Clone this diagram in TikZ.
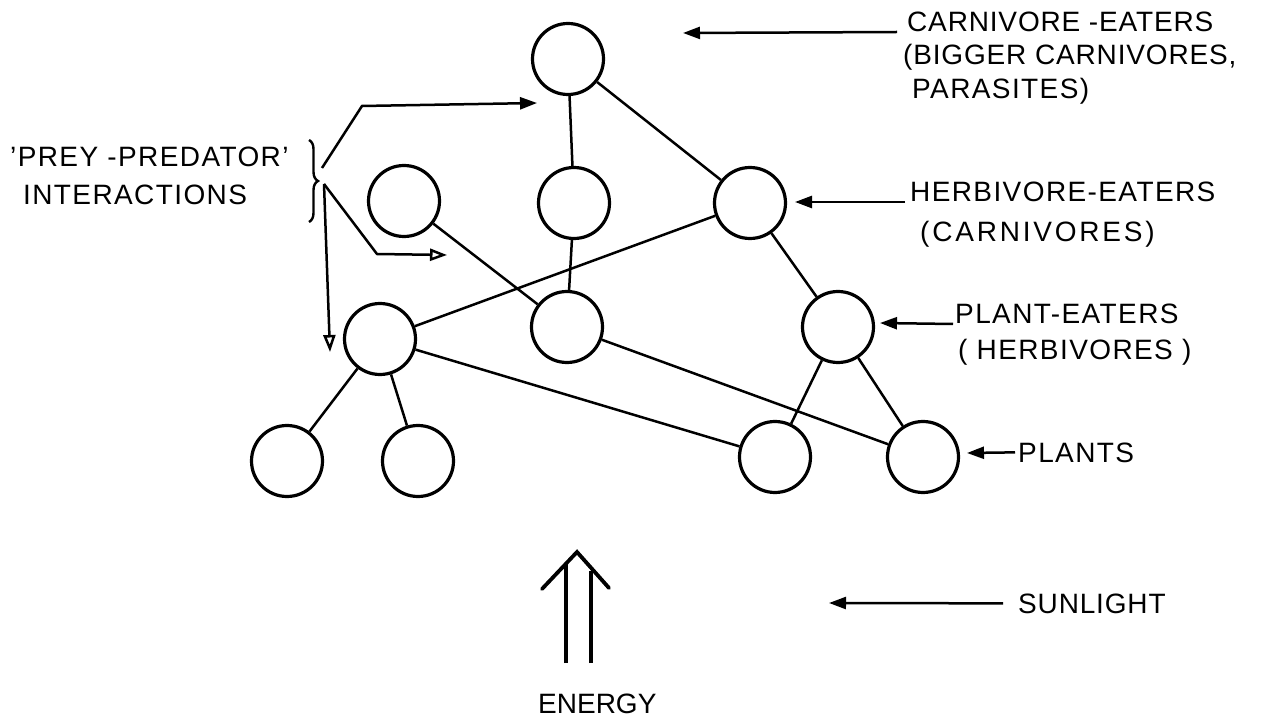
\documentclass[tikz,border=0pt]{standalone}
\usepackage{fontspec}
\setmainfont{Liberation Sans}[LetterSpace=5]
\newfontfamily\plainface{Liberation Sans}
\newfontfamily\tightface{Liberation Sans}[LetterSpace=3]
\newfontfamily\wideface{Liberation Sans}[LetterSpace=10]
\usetikzlibrary{arrows.meta,decorations.pathreplacing}
\begin{document}
\begin{tikzpicture}[x=1pt,y=-1pt,
  every node/.style={inner sep=0pt},
  ball/.style={circle,draw,line width=3.2pt,minimum size=71pt},
  link/.style={line width=2.5pt},
  lbl/.style={anchor=base west,font=\fontsize{28}{30}\selectfont},
  ptr/.style={line width=2.5pt,-{Triangle[length=17pt,width=12pt]}},
  optr/.style={line width=2.5pt,-{Triangle[open,length=17pt,width=12pt]}}]
\useasboundingbox (0,0) rectangle (1262,719);

% food-web circles
\node[ball] (a) at (568,59) {};
\node[ball] (b) at (404,201) {};
\node[ball] (c) at (574,203) {};
\node[ball] (d) at (750,203) {};
\node[ball] (e) at (380,339) {};
\node[ball] (f) at (567,327) {};
\node[ball] (g) at (838,327) {};
\node[ball] (h) at (287,461) {};
\node[ball] (i) at (418,461) {};
\node[ball] (j) at (775,457) {};
\node[ball] (k) at (923,457) {};

% feeding links
\draw[link] (a) -- (c);
\draw[link] (a) -- (d);
\draw[link] (c) -- (f);
\draw[link] (b) -- (f);
\draw[link] (d) -- (e);
\draw[link] (d) -- (g);
\draw[link] (e) -- (h);
\draw[link] (e) -- (i);
\draw[link] (e) -- (j);
\draw[link] (f) -- (k);
\draw[link] (g) -- (j);
\draw[link] (g) -- (k);

% right-hand labels
\node[lbl,font=\fontsize{28}{30}\tightface] (t1) at (907,32) {CARNIVORE -EATERS};
\node[lbl,font=\fontsize{28}{30}\tightface] (t2) at (903,65) {(BIGGER CARNIVORES,};
\node[lbl] (t3) at (912,99) {PARASITES)};
\node[lbl] (t4) at (910,202) {HERBIVORE-EATERS};
\node[lbl,font=\fontsize{28}{30}\wideface] (t5) at (920,242) {(CARNIVORES)};
\node[lbl] (t6) at (955,324) {PLANT-EATERS};
\node[lbl] (t7) at (958,360) {( HERBIVORES )};
\node[lbl] (t8) at (1018,462) {PLANTS};
\node[lbl,font=\fontsize{28}{30}\tightface] (t9) at (1018,613) {SUNLIGHT};
\node[lbl,font=\fontsize{28}{30}\plainface] (t10) at (538,713) {ENERGY};
\node[lbl] (t11) at (10,167) {'PREY -PREDATOR'};
\node[lbl] (t12) at (23,205) {INTERACTIONS};

\coordinate (ca) at (683,33);
\coordinate (cb) at (795,202);
\coordinate (cc) at (880,323);
\coordinate (cd) at (967,453);
\coordinate (ce) at (829,603);
\draw[ptr] ([xshift=-10pt]t1.base west) -- (ca);
\draw[ptr] ([xshift=-5pt]t4.base west) -- (cb);
\draw[ptr] ([xshift=-2pt]t6.base west) -- (cc);
\draw[ptr] ([xshift=-3pt]t8.west) -- (cd);
\draw[ptr] ([xshift=-15pt]t9.west) -- (ce);

% brace and prey-predator pointers
\draw[line width=2.4pt,decorate,decoration={brace,amplitude=9pt}] (309,140) -- (309,222);
\coordinate (p0) at (322,168);
\coordinate (p1) at (324,184);
\coordinate (q1) at (362,106);
\coordinate (q2) at (537,103);
\coordinate (r1) at (377,254);
\coordinate (r2) at (447,255);
\coordinate (s1) at (330,352);
\draw[ptr] (p0) -- (q1) -- (q2);
\draw[optr] (p1) -- (r1) -- (r2);
\draw[optr] (p1) -- (s1);

% energy double arrow
\draw[line width=3.8pt] (566,663) -- (566,563);
\draw[line width=3.8pt] (591,663) -- (591,571);
\draw[line width=3.8pt,line cap=round,line join=miter] (542,589) -- (577,552) -- (609,588);
\end{tikzpicture}
\end{document}
